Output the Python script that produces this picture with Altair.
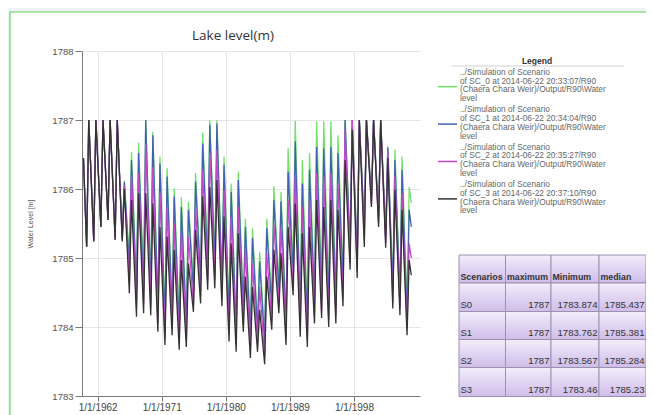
import altair as alt
import pandas as pd

# ---------------- data ----------------
years = list(range(1960, 2006))
series_names = ["SC_0", "SC_1", "SC_2", "SC_3"]
series_colors = ["#74e06c", "#4260b4", "#c64ac8", "#333333"]

start_level = [1786.45, 1786.45, 1786.45, 1786.45]
end_level = [1785.80, 1785.45, 1785.00, 1784.75]

peaks_sc0 = [1787, 1787, 1787, 1787, 1787, 1786.12, 1786.54, 1786.67, 1787, 1786.83,
             1786.47, 1786.30, 1786.01, 1785.88, 1785.82, 1786.23, 1786.82, 1787, 1787, 1786.47,
             1786.08, 1786.25, 1785.57, 1785.43, 1785.09, 1785.57, 1786.04, 1785.96, 1786.59, 1786.99,
             1786.42, 1786.52, 1786.98, 1786.98, 1786.98, 1786.78, 1787, 1787, 1787, 1787,
             1787, 1787, 1786.62, 1786.57, 1786.47, 1786.03]
peaks_sc1 = [1787, 1787, 1787, 1787, 1787, 1786.10, 1786.42, 1786.52, 1787, 1786.78,
             1786.37, 1786.18, 1785.89, 1785.74, 1785.70, 1786.11, 1786.66, 1786.93, 1786.95, 1786.35,
             1785.96, 1786.13, 1785.45, 1785.29, 1784.95, 1785.43, 1785.84, 1785.82, 1786.25, 1786.69,
             1786.08, 1786.28, 1786.61, 1786.59, 1786.61, 1786.52, 1787, 1787, 1787, 1787,
             1787, 1787, 1786.60, 1786.42, 1786.28, 1785.70]
peaks_sc2 = [1787, 1787, 1787, 1787, 1787, 1786.05, 1786.18, 1786.23, 1786.66, 1786.32,
             1785.94, 1785.74, 1785.50, 1785.36, 1785.31, 1785.74, 1786.28, 1786.52, 1786.57, 1785.99,
             1785.60, 1785.74, 1785.12, 1784.92, 1784.58, 1785.07, 1785.50, 1785.45, 1785.84, 1786.18,
             1785.74, 1785.84, 1786.23, 1786.18, 1786.23, 1786.08, 1786.86, 1787, 1787, 1787,
             1787, 1787, 1786.55, 1786.18, 1785.94, 1785.21]
peaks_sc3 = [1787, 1787, 1787, 1787, 1787, 1786.00, 1785.84, 1785.94, 1785.94, 1785.79,
             1785.45, 1785.31, 1785.12, 1784.97, 1784.92, 1785.41, 1785.89, 1786.03, 1786.13, 1785.60,
             1785.21, 1785.36, 1784.73, 1784.58, 1784.25, 1784.73, 1785.12, 1785.07, 1785.45, 1785.79,
             1785.36, 1785.45, 1785.84, 1785.74, 1785.84, 1785.70, 1786.42, 1786.86, 1787, 1787,
             1787, 1787, 1786.45, 1785.99, 1785.70, 1784.97]

troughs_sc0 = [1785.18, 1785.26, 1785.47, 1785.57, 1785.30, 1785.30, 1785.00, 1784.60, 1784.66, 1784.62,
               1784.36, 1784.16, 1784.30, 1784.08, 1784.12, 1784.62, 1784.76, 1784.98, 1785.00, 1784.72,
               1784.20, 1784.05, 1784.35, 1783.96, 1784.05, 1783.874, 1784.38, 1784.62, 1784.15, 1784.88,
               1784.28, 1784.12, 1784.46, 1784.55, 1784.42, 1784.46, 1784.72, 1785.22, 1785.10, 1785.50,
               1785.90, 1785.65, 1785.40, 1784.60, 1784.50, 1784.25]
troughs_sc1 = [1785.17, 1785.25, 1785.46, 1785.56, 1785.28, 1785.28, 1784.88, 1784.48, 1784.54, 1784.50,
               1784.25, 1784.05, 1784.19, 1783.97, 1784.01, 1784.52, 1784.65, 1784.86, 1784.88, 1784.61,
               1784.10, 1783.94, 1784.24, 1783.85, 1783.94, 1783.762, 1784.27, 1784.50, 1784.04, 1784.77,
               1784.17, 1784.01, 1784.35, 1784.44, 1784.31, 1784.35, 1784.62, 1785.12, 1785.00, 1785.42,
               1785.85, 1785.58, 1785.33, 1784.52, 1784.42, 1784.15]
troughs_sc2 = [1785.16, 1785.24, 1785.45, 1785.55, 1785.27, 1785.26, 1784.65, 1784.28, 1784.33, 1784.29,
               1784.05, 1783.85, 1783.99, 1783.78, 1783.82, 1784.33, 1784.45, 1784.66, 1784.68, 1784.41,
               1783.90, 1783.75, 1784.04, 1783.66, 1783.75, 1783.567, 1784.07, 1784.31, 1783.85, 1784.57,
               1783.97, 1783.82, 1784.16, 1784.24, 1784.11, 1784.16, 1784.42, 1784.93, 1784.82, 1785.27,
               1785.78, 1785.50, 1785.22, 1784.35, 1784.27, 1783.98]
troughs_sc3 = [1785.16, 1785.24, 1785.45, 1785.55, 1785.26, 1785.24, 1784.49, 1784.15, 1784.20, 1784.17,
               1783.93, 1783.74, 1783.88, 1783.67, 1783.71, 1784.22, 1784.34, 1784.54, 1784.56, 1784.30,
               1783.79, 1783.64, 1783.93, 1783.55, 1783.64, 1783.46, 1783.96, 1784.20, 1783.74, 1784.46,
               1783.86, 1783.71, 1784.05, 1784.13, 1784.00, 1784.05, 1784.30, 1784.83, 1784.71, 1785.16,
               1785.74, 1785.45, 1785.15, 1784.27, 1784.17, 1783.88]

x_tick_years = [1962, 1971, 1980, 1989, 1998]
y_ticks = [1783, 1784, 1785, 1786, 1787, 1788]

legend_lines = [
    ["../Simulation of Scenario", "of SC_0 at 2014-06-22 20:33:07/R90",
     "(Chaera Chara Weir)/Output/R90\\Water", "level"],
    ["../Simulation of Scenario", "of SC_1 at 2014-06-22 20:34:04/R90",
     "(Chaera Chara Weir)/Output/R90\\Water", "level"],
    ["../Simulation of Scenario", "of SC_2 at 2014-06-22 20:35:27/R90",
     "(Chaera Chara Weir)/Output/R90\\Water", "level"],
    ["../Simulation of Scenario", "of SC_3 at 2014-06-22 20:37:10/R90",
     "(Chaera Chara Weir)/Output/R90\\Water", "level"],
]

table_header = ["Scenarios", "maximum", "Minimum", "median"]
table_scen = ["S0", "S1", "S2", "S3"]
table_max = [1787, 1787, 1787, 1787]
table_min = [1783.874, 1783.762, 1783.567, 1783.46]
table_median = [1785.437, 1785.381, 1785.284, 1785.23]

# ---------------- build tables ----------------
peaks = [peaks_sc0, peaks_sc1, peaks_sc2, peaks_sc3]
troughs = [troughs_sc0, troughs_sc1, troughs_sc2, troughs_sc3]
rows = []
for s, name in enumerate(series_names):
    rows.append({"date": "1960-01-01", "level": start_level[s], "series": name})
    for i, y in enumerate(years):
        rows.append({"date": f"{y}-06-15", "level": troughs[s][i], "series": name})
        rows.append({"date": f"{y}-10-01", "level": peaks[s][i], "series": name})
    rows.append({"date": "2006-01-20", "level": end_level[s], "series": name})
df = pd.DataFrame(rows)

# layout (page pixel coords) -> plot-relative
OX, OY = 82, 51
W, H = 338, 345
VIEW_RIGHT = 646

def px(x):
    return x - OX

def py(y):
    return y - OY

FONT = "Liberation Sans"

strips = alt.Chart(alt.Data(values=[{}])).mark_rect(fill="#eff2f8", strokeWidth=0)
strip_left = strips.encode(x=alt.value(px(0)), x2=alt.value(px(10)), y=alt.value(py(0)), y2=alt.value(py(460)))
strip_top = strips.encode(x=alt.value(px(0)), x2=alt.value(px(720)), y=alt.value(py(0)), y2=alt.value(py(12)))
frame = alt.Chart(alt.Data(values=[{}])).mark_rect(
    filled=False, stroke="#5fd65f", strokeWidth=1.2
).encode(x=alt.value(px(10)), x2=alt.value(px(720)), y=alt.value(py(12)), y2=alt.value(py(460)))

title = alt.Chart(alt.Data(values=[{"t": "Lake level(m)"}])).mark_text(
    font="Open Sans", fontSize=13.5, color="#333", align="center", baseline="middle"
).encode(text="t:N", x=alt.value(px(233)), y=alt.value(py(36)))

lines = alt.Chart(df).mark_line(strokeWidth=1.3, clip=True).encode(
    x=alt.X("date:T",
            scale=alt.Scale(type="utc",
                            domain=[alt.DateTime(year=1959, month=10, date=20, utc=True),
                                    alt.DateTime(year=2007, month=4, date=10, utc=True)]),
            axis=alt.Axis(values=[alt.DateTime(year=y, month=1, date=1, utc=True) for y in x_tick_years],
                          labelExpr="'1/1/' + utcFormat(datum.value, '%Y')",
                          title=None, grid=True, gridColor="#e6e6e6", domainColor="#7a7a7a",
                          tickColor="#7a7a7a", tickSize=5, labelFontSize=10, labelColor="#444",
                          labelFont=FONT, labelPadding=1, labelFlush=False)),
    y=alt.Y("level:Q",
            scale=alt.Scale(domain=[1783, 1788], nice=False, zero=False),
            axis=alt.Axis(values=y_ticks, format="d", title="Water Level [m]", grid=True,
                          gridColor="#e6e6e6", domainColor="#7a7a7a", tickColor="#7a7a7a",
                          tickSize=7, labelFontSize=9.5, labelColor="#555", labelFont=FONT,
                          labelPadding=2, titleFontSize=7, titleColor="#555", titleFont=FONT,
                          titleFontWeight="normal", titlePadding=18)),
    color=alt.Color("series:N", scale=alt.Scale(domain=series_names, range=series_colors), legend=None),
)

# legend
leg_rows = []
leg_samples = []
for k, name in enumerate(series_names):
    y0 = 72.7 + k * 37.4
    for j, t in enumerate(legend_lines[k]):
        leg_rows.append({"x": px(460), "y": py(y0 + j * 8.8), "t": t})
    leg_samples.append({"x": px(438), "x2": px(457), "y": py(y0 + 14), "c": series_colors[k]})
leg_df = pd.DataFrame(leg_rows)
samp_df = pd.DataFrame(leg_samples)

leg_title = alt.Chart(alt.Data(values=[{"t": "Legend"}])).mark_text(
    font=FONT, fontSize=8.5, fontWeight="bold", color="#333", align="center", baseline="middle"
).encode(text="t:N", x=alt.value(px(537)), y=alt.value(py(61)))
leg_rule = alt.Chart(alt.Data(values=[{}])).mark_rule(color="#d0d0d0", strokeWidth=1).encode(
    x=alt.value(px(452)), x2=alt.value(px(624)), y=alt.value(py(66)))
leg_text = alt.Chart(leg_df).mark_text(
    font=FONT, fontSize=8.3, color="#666", align="left", baseline="middle"
).encode(text="t:N", x=alt.X("x:Q", scale=None, axis=None), y=alt.Y("y:Q", scale=None, axis=None))
leg_samp = alt.Chart(samp_df).mark_rule(strokeWidth=1.5).encode(
    x=alt.X("x:Q", scale=None, axis=None), x2="x2:Q",
    y=alt.Y("y:Q", scale=None, axis=None),
    color=alt.Color("c:N", scale=None, legend=None))

# table
col_edges = [459.0, 505.5, 551.0, 599.0, 646.0]
row_edges = [255.0, 283.0, 311.5, 339.5, 367.5, 396.5]
cells, txt_left, txt_right = [], [], []
for r in range(5):
    for c in range(4):
        cells.append({"x": px(col_edges[c]), "x2": px(col_edges[c + 1]),
                      "y": py(row_edges[r]), "y2": py(row_edges[r + 1])})
for c, h in enumerate(table_header):
    txt_left.append({"x": px(col_edges[c] + 1.5), "y": py(row_edges[1] - 6.5), "t": h, "w": "bold"})
for r in range(4):
    yb = py(row_edges[r + 2] - 6.5)
    txt_left.append({"x": px(col_edges[0] + 1.5), "y": yb, "t": table_scen[r], "w": "normal"})
    for c, v in enumerate([table_max[r], table_min[r], table_median[r]]):
        txt_right.append({"x": px(col_edges[c + 2] - 1.5), "y": yb, "t": str(v)})
cell_df = pd.DataFrame(cells)
tl_df = pd.DataFrame([d for d in txt_left if d["w"] == "normal"])
th_df = pd.DataFrame([d for d in txt_left if d["w"] == "bold"])
tr_df = pd.DataFrame(txt_right)

grad = alt.Gradient(gradient="linear", x1=0, x2=0, y1=0, y2=1,
                    stops=[alt.GradientStop(color="#f3edfb", offset=0),
                           alt.GradientStop(color="#cfbdea", offset=1)])
tab_cells = alt.Chart(cell_df).mark_rect(color=grad, stroke="#9c92b0", strokeWidth=1).encode(
    x=alt.X("x:Q", scale=None, axis=None), x2="x2:Q",
    y=alt.Y("y:Q", scale=None, axis=None), y2="y2:Q")
tab_head = alt.Chart(th_df).mark_text(font=FONT, fontSize=8.8, fontWeight="bold", color="#333",
                                      align="left", baseline="middle").encode(
    text="t:N", x=alt.X("x:Q", scale=None, axis=None), y=alt.Y("y:Q", scale=None, axis=None))
tab_left = alt.Chart(tl_df).mark_text(font=FONT, fontSize=9.5, color="#333",
                                      align="left", baseline="middle").encode(
    text="t:N", x=alt.X("x:Q", scale=None, axis=None), y=alt.Y("y:Q", scale=None, axis=None))
tab_right = alt.Chart(tr_df).mark_text(font=FONT, fontSize=9.6, color="#333",
                                       align="right", baseline="middle").encode(
    text="t:N", x=alt.X("x:Q", scale=None, axis=None), y=alt.Y("y:Q", scale=None, axis=None))

chart = alt.layer(
    strip_left, strip_top, frame, lines, title, leg_title, leg_rule, leg_text, leg_samp,
    tab_cells, tab_head, tab_left, tab_right
).resolve_scale(x="independent", y="independent", color="independent").properties(
    width=W, height=H, autosize="none", background="white",
    padding={"left": OX - 8, "top": OY - 8, "right": VIEW_RIGHT - OX - W, "bottom": 19},
).configure_view(stroke=None)

chart.save("out.html", embed_options={"renderer": "svg", "actions": False})
